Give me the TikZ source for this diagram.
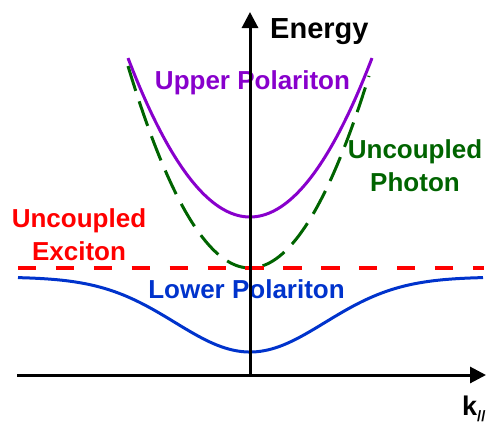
\documentclass[tikz,border=0pt]{standalone}
\usepackage{fontspec}
\setmainfont{Liberation Sans}
\usetikzlibrary{arrows.meta}
\definecolor{upc}{RGB}{136,0,204}
\definecolor{phc}{RGB}{0,100,0}
\definecolor{exc}{RGB}{255,0,0}
\definecolor{lpc}{RGB}{0,51,204}
\begin{document}
\begin{tikzpicture}[x=1pt,y=-1pt,
  axisline/.style={line width=3pt,-{Triangle[length=16pt,width=16pt]}},
  upperline/.style={upc,line width=3pt},
  photonline/.style={phc,line width=3pt,dash pattern=on 26pt off 11pt},
  excitonline/.style={exc,line width=3.3pt,dash pattern=on 18.3pt off 19.6pt},
  lowerline/.style={lpc,line width=3pt},
  lbl/.style={font=\fontsize{26}{30}\selectfont\bfseries,inner sep=0pt,anchor=base}]
\useasboundingbox (0,0) rectangle (489,423);
\coordinate (origin) at (250,375);
\coordinate (ytip) at (250,12);
\coordinate (xstart) at (17,375);
\coordinate (xtip) at (486,375);
\coordinate (exl) at (18,268);
\coordinate (exr) at (484,268);
% curves
\draw[upperline] plot[domain=128:372,samples=90,smooth] (\x,{217-106.8*((\x-250)/100)^2});
\draw[photonline] plot[domain=128:369,samples=90,smooth] (\x,{268-135.7*((\x-250)/100)^2});
\draw[excitonline] (exl) -- (exr);
\draw[lowerline] plot[domain=18:483,samples=120,smooth] (\x,{277+75*exp(-((\x-250)/106)^2)});
% labels
\node[lbl,anchor=base west,font=\fontsize{29}{32}\selectfont\bfseries] (energy) at (270,38) {Energy};
\node[lbl,text=upc] (up) at (252.5,89) {Upper Polariton};
\node[lbl,text=phc] (ph1) at (415,158) {Uncoupled};
\node[lbl,text=phc] (ph2) at (415,191) {Photon};
\node[lbl,text=exc] (ex1) at (79,227) {Uncoupled};
\node[lbl,text=exc] (ex2) at (79,260) {Exciton};
\node[lbl,text=lpc] (lp) at (246.5,298) {Lower Polariton};
\node[lbl,anchor=base west] (kpar) at (462,415) {{\fontsize{27}{30}\selectfont k}\raisebox{-6pt}{\fontsize{15}{17}\selectfont //}};
% axes
\draw[axisline] (origin) -- (ytip);
\draw[axisline] (xstart) -- (xtip);
\end{tikzpicture}
\end{document}
